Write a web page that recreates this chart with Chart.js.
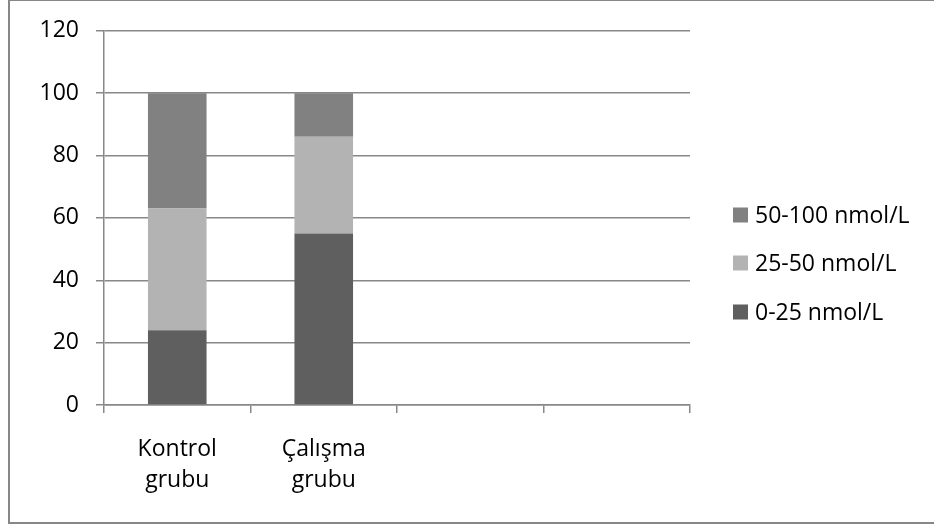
<!DOCTYPE html>
<html>
<head>
<meta charset="utf-8">
<script src="https://cdn.jsdelivr.net/npm/chart.js@4/dist/chart.umd.min.js"></script>
<style>
  html, body { margin: 0; padding: 0; background: #fff; }
  canvas { display: block; }
</style>
</head>
<body>
<canvas id="chart" width="934" height="524"></canvas>
<script>
// Categories (two empty slots keep the Excel-style spacing)
const categories = [["Kontrol", "grubu"], ["Çalışma", "grubu"], "", ""];
// Series names, bottom to top of each stack
const seriesLabels = ["0-25 nmol/L", "25-50 nmol/L", "50-100 nmol/L"];
// Percentages per group
const low  = [24, 55, null, null];
const mid  = [39, 31, null, null];
const high = [37, 14, null, null];
// Value axis ticks
const yTicks = [0, 20, 40, 60, 80, 100, 120];

const seriesColors = ["#5f5f5f", "#b3b3b3", "#818181"];
const axisGray = "#888888";
const FONT = { family: "'Open Sans', sans-serif", size: 23 };

// White page with a thin gray frame around the chart
const framePlugin = {
  id: "frame",
  beforeDraw(chart) {
    const ctx = chart.ctx;
    ctx.save();
    ctx.fillStyle = "#ffffff";
    ctx.fillRect(0, 0, chart.width, chart.height);
    ctx.strokeStyle = "#878787";
    ctx.lineWidth = 2;
    ctx.strokeRect(9, 0, chart.width + 10, chart.height - 1);
    ctx.restore();
  }
};

// Legend on the right, series listed top-down in reverse stack order
const sideLegend = {
  id: "sideLegend",
  afterDraw(chart) {
    const ctx = chart.ctx;
    const ds = chart.data.datasets;
    const boxX = 733, textX = 755, box = 15;
    const rowY = [215, 263, 312];
    ctx.save();
    ctx.font = FONT.size + "px " + FONT.family;
    ctx.textBaseline = "middle";
    ctx.textAlign = "left";
    for (let i = 0; i < ds.length; i++) {
      const d = ds[ds.length - 1 - i];
      const y = rowY[i];
      ctx.fillStyle = d.backgroundColor;
      ctx.fillRect(boxX, y - box / 2, box, box);
      ctx.fillStyle = "#000000";
      ctx.fillText(d.label, textX, y + 1);
    }
    ctx.restore();
  }
};

const values = [low, mid, high];

new Chart(document.getElementById("chart"), {
  type: "bar",
  data: {
    labels: categories,
    datasets: seriesLabels.map((name, i) => ({
      label: name,
      data: values[i],
      backgroundColor: seriesColors[i],
      borderWidth: 0,
      barPercentage: 0.4,
      categoryPercentage: 1.0
    }))
  },
  options: {
    responsive: false,
    animation: false,
    devicePixelRatio: 1,
    layout: { padding: { top: 30, right: 244, left: 0, bottom: 0 } },
    plugins: {
      legend: { display: false },
      tooltip: { enabled: false }
    },
    scales: {
      x: {
        stacked: true,
        afterFit(scale) { scale.height = 119; },
        grid: {
          offset: true,
          drawOnChartArea: false,
          drawTicks: true,
          tickLength: 8,
          color: axisGray,
          lineWidth: 1.5
        },
        border: { display: true, color: axisGray, width: 1.5 },
        ticks: {
          color: "#000000",
          font: { ...FONT, lineHeight: 1.35 },
          padding: 21,
          maxRotation: 0,
          autoSkip: false
        }
      },
      y: {
        stacked: true,
        min: yTicks[0],
        max: yTicks[yTicks.length - 1],
        afterFit(scale) { scale.width = 104; },
        afterBuildTicks(scale) { scale.ticks = yTicks.map(v => ({ value: v })); },
        grid: {
          color: axisGray,
          lineWidth: 1.5,
          drawTicks: true,
          tickLength: 8
        },
        border: { display: true, color: axisGray, width: 1.5 },
        ticks: {
          color: "#000000",
          font: FONT,
          padding: 17
        }
      }
    }
  },
  plugins: [framePlugin, sideLegend]
});
</script>
</body>
</html>
